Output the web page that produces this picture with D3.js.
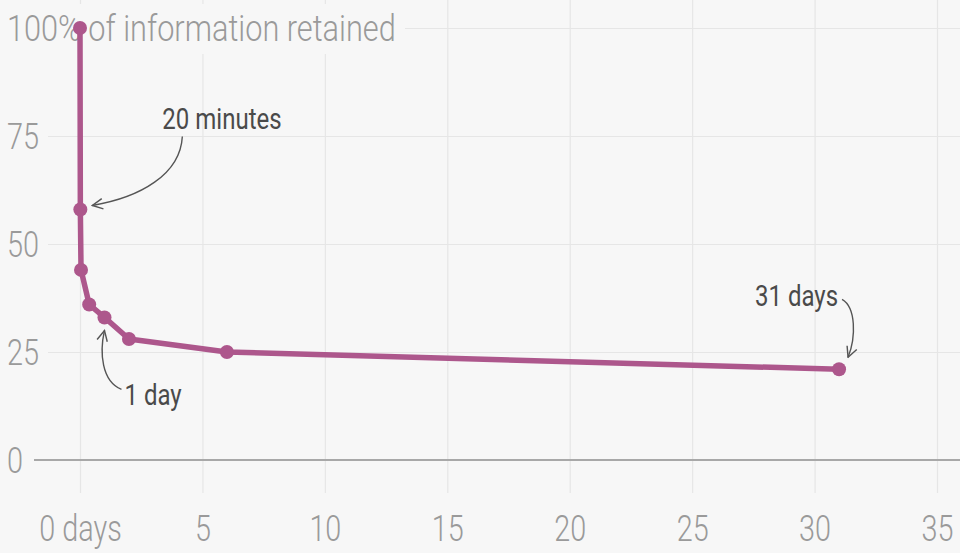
<!DOCTYPE html>
<html>
<head>
<meta charset="utf-8">
<script src="https://cdn.jsdelivr.net/npm/d3@7"></script>
<style>
  body { margin: 0; background: #f7f7f7; }
  svg { display: block; }
  text { font-family: Roboto, "Liberation Sans", sans-serif; }
</style>
</head>
<body>
<div id="chart"></div>
<script>
// forgetting curve values (days since learning, % retained)
const days = [0, 0.0139, 0.042, 0.375, 1, 2, 6, 31];
const retained = [100, 58, 44, 36, 33, 28, 25, 21];
const xTicks = [0, 5, 10, 15, 20, 25, 30, 35];
const yTicks = [0, 25, 50, 75, 100];
const notes = [
    { label: '20 minutes', idx: 1 },
    { label: '1 day', idx: 4 },
    { label: '31 days', idx: 7 }
];

const W = 960, H = 553;
const lineColor = '#ad578c';
const gridColor = '#e6e6e6';
const tickColor = '#9a9a9a';

const svg = d3.select('#chart').append('svg')
    .attr('width', W)
    .attr('height', H);

svg.append('rect').attr('width', W).attr('height', H).attr('fill', '#f7f7f7');

const x = d3.scaleLinear().domain([0, 35]).range([80, 937]);
const y = d3.scaleLinear().domain([0, 100]).range([460, 28]);

// squeeze text horizontally to mimic the condensed face
function condense(sel, k) {
    sel.each(function () {
        const w = this.getComputedTextLength();
        d3.select(this).attr('textLength', w * k).attr('lengthAdjust', 'spacingAndGlyphs');
    });
}

// vertical grid + x labels
const xAx = svg.append('g')
    .call(d3.axisBottom(x).tickValues(xTicks).tickSize(493).tickPadding(22)
        .tickFormat(d => d === 0 ? '0 days' : d));
xAx.select('.domain').remove();
xAx.selectAll('line').attr('stroke', gridColor).attr('stroke-width', 1.2);
xAx.selectAll('text').attr('fill', tickColor).attr('font-size', 36).attr('font-weight', 300)
    .call(condense, 0.8);

// horizontal grid
const yAx = svg.append('g')
    .attr('transform', 'translate(48,0)')
    .call(d3.axisLeft(y).tickValues(yTicks.filter(d => d > 0)).tickSize(-(W - 48)));
yAx.select('.domain').remove();
yAx.selectAll('line').attr('stroke', gridColor).attr('stroke-width', 1.2);
yAx.selectAll('text').remove();

// title knockout over grid
svg.append('rect')
    .attr('x', 0).attr('y', 4).attr('width', 405).attr('height', 50)
    .attr('fill', '#f7f7f7');

// zero line
svg.append('line')
    .attr('x1', 34).attr('x2', W)
    .attr('y1', y(0)).attr('y2', y(0))
    .attr('stroke', '#a8a8a8').attr('stroke-width', 2);

// y labels, left aligned (top one doubles as the axis title)
svg.append('g').selectAll('text')
    .data(yTicks)
    .join('text')
    .attr('x', 7)
    .attr('y', d => y(d))
    .attr('dy', '0.36em')
    .attr('fill', tickColor)
    .attr('font-size', 37)
    .attr('font-weight', 300)
    .text(d => d === 100 ? '100% of information retained' : d)
    .each(function (d) { d3.select(this).call(condense, d === 100 ? 0.83 : 0.78); });

// curve
const pts = days.map((d, i) => ({ day: d, val: retained[i] }));
const line = d3.line().x(d => x(d.day)).y(d => y(d.val));

svg.append('path')
    .attr('d', line(pts))
    .attr('fill', 'none')
    .attr('stroke', lineColor)
    .attr('stroke-width', 5.5)
    .attr('stroke-linejoin', 'round');

svg.append('g').selectAll('circle')
    .data(pts)
    .join('circle')
    .attr('cx', d => x(d.day))
    .attr('cy', d => y(d.val))
    .attr('r', 7)
    .attr('fill', lineColor);

// annotations: label offset and arrow path relative to the point
const annot = svg.append('g');
svg.append('defs').append('marker')
    .attr('id', 'head')
    .attr('viewBox', '0 0 10 10')
    .attr('refX', 9).attr('refY', 5)
    .attr('markerWidth', 13).attr('markerHeight', 13)
    .attr('markerUnits', 'userSpaceOnUse')
    .attr('orient', 'auto')
    .append('path')
    .attr('d', 'M1,1 L9,5 L1,9')
    .attr('fill', 'none')
    .attr('stroke', '#555')
    .attr('stroke-width', 1.1);

const noteLayout = [
    { tx: 82, ty: -80, anchor: 'start', arrow: (px, py) => `M${px + 102},${py - 73} C${px + 100},${py - 35} ${px + 60},${py - 12} ${px + 12},${py - 4}` },
    { tx: 20, ty: 88, anchor: 'start', arrow: (px, py) => `M${px + 17},${py + 72} C${px - 3},${py + 64} ${px - 5},${py + 35} ${px},${py + 13}` },
    { tx: -1, ty: -63, anchor: 'end', arrow: (px, py) => `M${px + 3},${py - 70} C${px + 17},${py - 62} ${px + 17},${py - 32} ${px + 9},${py - 12}` }
];

notes.forEach((n, i) => {
    const px = x(days[n.idx]), py = y(retained[n.idx]);
    const L = noteLayout[i];
    annot.append('text')
        .attr('x', px + L.tx)
        .attr('y', py + L.ty)
        .attr('text-anchor', L.anchor)
        .attr('fill', '#4a4a4a')
        .attr('font-size', 30)
        .text(n.label)
        .call(condense, 0.8);
    annot.append('path')
        .attr('d', L.arrow(px, py))
        .attr('fill', 'none')
        .attr('stroke', '#555')
        .attr('stroke-width', 1.4)
        .attr('marker-end', 'url(#head)');
});
</script>
</body>
</html>
